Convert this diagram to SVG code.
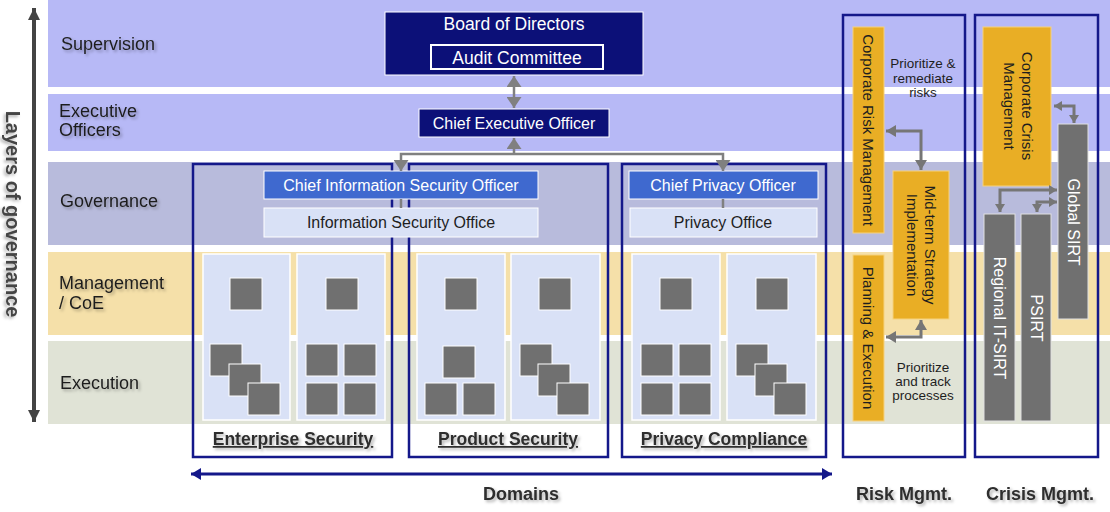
<svg xmlns="http://www.w3.org/2000/svg" width="1110" height="512" viewBox="0 0 1110 512">
<defs>
<style>
text{font-family:"Liberation Sans",Arial,sans-serif}
.lbl{font-size:18px;fill:#1e1e1e}
.wt{fill:#fff;text-anchor:middle}
.dk{fill:#1e1e1e;text-anchor:middle}
.rot{dominant-baseline:central;text-anchor:middle}
.dom{font-size:17.5px;font-weight:bold;fill:#2e2e2e;text-anchor:middle;text-decoration:underline}
.bot{font-size:18px;font-weight:bold;fill:#2e2e2e;text-anchor:middle}
.note{font-size:13.5px;fill:#1e1e1e;text-anchor:middle}
.col{fill:#d9e1f6;stroke:#fff;stroke-width:1.5}
.sq{fill:#707070;stroke:#fff;stroke-width:1}
.box{fill:none;stroke:#14188a;stroke-width:2.5}
.org{fill:#e9ae25;stroke:#f6d27e;stroke-width:1}
.gry{fill:#707070;stroke:#e0e0e0;stroke-width:1}
.cg{fill:none;stroke:#808080;stroke-width:2.5}
.cr{fill:none;stroke:#767676;stroke-width:3}
</style>
<filter id="sh" x="-10%" y="-40%" width="130%" height="200%"><feDropShadow dx="2" dy="2" stdDeviation="1.5" flood-color="#000" flood-opacity="0.3"/></filter>
<marker id="aG" markerUnits="userSpaceOnUse" viewBox="0 0 11 15" markerWidth="11" markerHeight="15" refX="11" refY="7.5" orient="auto-start-reverse"><path d="M0,0 L11,7.5 L0,15 z" fill="#808080"/></marker>
<marker id="aR" markerUnits="userSpaceOnUse" viewBox="0 0 10 12" markerWidth="10" markerHeight="12" refX="10" refY="6" orient="auto-start-reverse"><path d="M0,0 L10,6 L0,12 z" fill="#767676"/></marker>
<marker id="aC" markerUnits="userSpaceOnUse" viewBox="0 0 8 10" markerWidth="8" markerHeight="10" refX="8" refY="5" orient="auto-start-reverse"><path d="M0,0 L8,5 L0,10 z" fill="#767676"/></marker>
<marker id="aN" markerUnits="userSpaceOnUse" viewBox="0 0 10 12" markerWidth="10" markerHeight="12" refX="10" refY="6" orient="auto-start-reverse"><path d="M0,0 L10,6 L0,12 z" fill="#14188a"/></marker>
<marker id="aD" markerUnits="userSpaceOnUse" viewBox="0 0 12 12" markerWidth="12" markerHeight="12" refX="12" refY="6" orient="auto-start-reverse"><path d="M0,0 L12,6 L0,12 z" fill="#444"/></marker>
</defs>

<g id="bands">
<rect x="48" y="0" width="1062" height="87" fill="#b7b9f6"/>
<rect x="48" y="94" width="1062" height="57" fill="#b7b9f6"/>
<rect x="48" y="162" width="1062" height="83" fill="#b8bbdc"/>
<rect x="48" y="252" width="1062" height="83" fill="#f5e0a9"/>
<rect x="48" y="341" width="1062" height="83" fill="#e0e3d6"/>
</g>

<g id="band-labels" filter="url(#sh)">
<text class="lbl" x="61" y="50">Supervision</text>
<text class="lbl" x="59" y="117">Executive</text>
<text class="lbl" x="59" y="136">Officers</text>
<text class="lbl" x="60" y="207">Governance</text>
<text class="lbl" x="59" y="289">Management</text>
<text class="lbl" x="59" y="309">/ CoE</text>
<text class="lbl" x="60" y="389">Execution</text>
</g>

<g id="layers-axis">
<path d="M34,8 L34,422" fill="none" stroke="#444" stroke-width="4" marker-start="url(#aD)" marker-end="url(#aD)"/>
<text class="rot" transform="translate(13,214) rotate(90)" font-size="20" font-weight="bold" fill="#444" filter="url(#sh)">Layers of governance</text>
</g>

<g id="board">
<rect x="385" y="12" width="258" height="63" fill="#0c1078" stroke="#fff" stroke-width="1"/>
<text class="wt" x="514" y="30" font-size="17.5">Board of Directors</text>
</g>
<g id="audit">
<rect x="431" y="45" width="172" height="24" fill="#0c1078" stroke="#fff" stroke-width="2"/>
<text class="wt" x="517" y="64" font-size="17.5">Audit Committee</text>
</g>
<g id="ceo">
<rect x="419" y="109" width="190" height="28" fill="#0c1078" stroke="#fff" stroke-width="1"/>
<text class="wt" x="514" y="129" font-size="16">Chief Executive Officer</text>
</g>

<g id="domain-enterprise">
<rect class="box" x="193" y="164" width="199" height="293"/>
<text class="dom" x="293" y="445" filter="url(#sh)">Enterprise Security</text>
</g>
<g id="domain-product">
<rect class="box" x="409" y="164" width="199" height="293"/>
<text class="dom" x="508" y="445" filter="url(#sh)">Product Security</text>
</g>
<g id="domain-privacy">
<rect class="box" x="622" y="164" width="204" height="293"/>
<text class="dom" x="724" y="445" filter="url(#sh)">Privacy Compliance</text>
</g>

<g id="ciso">
<rect x="264" y="171" width="274" height="28" fill="#3f69cf" stroke="#fff" stroke-width="1"/>
<text class="wt" x="401" y="191" font-size="16">Chief Information Security Officer</text>
</g>
<g id="iso">
<rect x="264" y="208" width="274" height="29" fill="#d9e1f6" stroke="#fff" stroke-width="1"/>
<text class="dk" x="401" y="228" font-size="16">Information Security Office</text>
</g>
<g id="cpo">
<rect x="629" y="171" width="189" height="28" fill="#3f69cf" stroke="#fff" stroke-width="1"/>
<text class="wt" x="723" y="191" font-size="16">Chief Privacy Officer</text>
</g>
<g id="privacy-office">
<rect x="630" y="208" width="187" height="29" fill="#d9e1f6" stroke="#fff" stroke-width="1"/>
<text class="dk" x="723" y="228" font-size="16">Privacy Office</text>
</g>

<g id="ent-col1">
<rect class="col" x="203" y="254" width="87" height="166"/>
<rect class="sq" x="230" y="278" width="32" height="32"/>
<rect class="sq" x="210" y="344" width="32" height="32"/>
<rect class="sq" x="229" y="364" width="32" height="32"/>
<rect class="sq" x="248" y="383" width="32" height="32"/>
</g>
<g id="ent-col2">
<rect class="col" x="297" y="254" width="88" height="166"/>
<rect class="sq" x="326" y="278" width="32" height="32"/>
<rect class="sq" x="306" y="344" width="32" height="32"/>
<rect class="sq" x="344" y="344" width="32" height="32"/>
<rect class="sq" x="306" y="383" width="32" height="32"/>
<rect class="sq" x="344" y="383" width="32" height="32"/>
</g>
<g id="prod-col1">
<rect class="col" x="417" y="254" width="88" height="166"/>
<rect class="sq" x="445" y="278" width="32" height="32"/>
<rect class="sq" x="443" y="346" width="32" height="32"/>
<rect class="sq" x="425" y="383" width="32" height="32"/>
<rect class="sq" x="463" y="383" width="32" height="32"/>
</g>
<g id="prod-col2">
<rect class="col" x="511" y="254" width="89" height="166"/>
<rect class="sq" x="539" y="278" width="32" height="32"/>
<rect class="sq" x="520" y="344" width="32" height="32"/>
<rect class="sq" x="538" y="364" width="32" height="32"/>
<rect class="sq" x="557" y="383" width="32" height="32"/>
</g>
<g id="priv-col1">
<rect class="col" x="632" y="254" width="88" height="166"/>
<rect class="sq" x="660" y="278" width="32" height="32"/>
<rect class="sq" x="641" y="344" width="32" height="32"/>
<rect class="sq" x="679" y="344" width="32" height="32"/>
<rect class="sq" x="641" y="383" width="32" height="32"/>
<rect class="sq" x="679" y="383" width="32" height="32"/>
</g>
<g id="priv-col2">
<rect class="col" x="727" y="254" width="89" height="166"/>
<rect class="sq" x="756" y="278" width="32" height="32"/>
<rect class="sq" x="736" y="344" width="32" height="32"/>
<rect class="sq" x="755" y="364" width="32" height="32"/>
<rect class="sq" x="774" y="383" width="32" height="32"/>
</g>

<g id="risk-mgmt">
<rect class="box" x="843" y="15" width="122" height="442"/>
<text class="bot" x="904" y="500" filter="url(#sh)">Risk Mgmt.</text>
</g>
<g id="corp-risk">
<rect class="org" x="853" y="27" width="31" height="206"/>
<text class="rot" transform="translate(868.5,130) rotate(90)" font-size="15" fill="#1e1e1e">Corporate Risk Management</text>
</g>
<g id="midterm">
<rect class="org" x="893" y="171" width="56" height="148"/>
<text class="rot" transform="translate(930,245) rotate(90)" font-size="15" fill="#1e1e1e">Mid-term Strategy</text>
<text class="rot" transform="translate(912,245) rotate(90)" font-size="15" fill="#1e1e1e">Implementation</text>
</g>
<g id="planning">
<rect class="org" x="853" y="255" width="31" height="166"/>
<text class="rot" transform="translate(868.5,338) rotate(90)" font-size="15" fill="#1e1e1e">Planning &amp; Execution</text>
</g>
<g id="note-remediate">
<text class="note" x="923" y="68">Prioritize &amp;</text>
<text class="note" x="923" y="83">remediate</text>
<text class="note" x="923" y="97">risks</text>
</g>
<g id="note-track">
<text class="note" x="923" y="372">Prioritize</text>
<text class="note" x="923" y="386">and track</text>
<text class="note" x="923" y="400">processes</text>
</g>

<g id="crisis-mgmt">
<rect class="box" x="975" y="15" width="123" height="442"/>
<text class="bot" x="1040" y="500" filter="url(#sh)">Crisis Mgmt.</text>
</g>
<g id="corp-crisis">
<rect class="org" x="983" y="27" width="68" height="159"/>
<text class="rot" transform="translate(1027,106) rotate(90)" font-size="15" fill="#1e1e1e">Corporate Crisis</text>
<text class="rot" transform="translate(1009,106) rotate(90)" font-size="15" fill="#1e1e1e">Management</text>
</g>
<g id="global-sirt">
<rect class="gry" x="1058" y="124" width="30" height="195"/>
<text class="rot" transform="translate(1073,222) rotate(90)" font-size="16" fill="#fff">Global SIRT</text>
</g>
<g id="regional-sirt">
<rect class="gry" x="984" y="214" width="31" height="207"/>
<text class="rot" transform="translate(999.5,318) rotate(90)" font-size="16" fill="#fff">Regional IT-SIRT</text>
</g>
<g id="psirt">
<rect class="gry" x="1021" y="214" width="30" height="207"/>
<text class="rot" transform="translate(1036,318) rotate(90)" font-size="16" fill="#fff">PSIRT</text>
</g>

<g id="domains-axis">
<text class="bot" x="521" y="500" filter="url(#sh)">Domains</text>
</g>

<g id="connectors">
<path class="cg" d="M514,76 L514,108" marker-start="url(#aG)" marker-end="url(#aG)"/>
<path class="cg" d="M514,154 L514,138" marker-end="url(#aG)"/>
<path class="cg" d="M401,171 L401,154 L723,154 L723,171" marker-start="url(#aG)" marker-end="url(#aG)"/>
<path class="cg" d="M401,199 L401,208"/>
<path class="cg" d="M723,199 L723,208"/>
<path class="cr" d="M886,131 L921,131 L921,170" marker-start="url(#aR)" marker-end="url(#aR)"/>
<path class="cr" d="M886,337 L921,337 L921,320" marker-start="url(#aR)" marker-end="url(#aR)"/>
<path class="cr" d="M1054,106 L1074,106 L1074,123" stroke-width="2.5" marker-start="url(#aC)" marker-end="url(#aC)"/>
<path class="cr" d="M1000,212 L1000,190 L1057,190" stroke-width="2.5" marker-start="url(#aC)" marker-end="url(#aC)"/>
<path class="cr" d="M1037,212 L1037,202 L1057,202" stroke-width="2.5" marker-start="url(#aC)" marker-end="url(#aC)"/>
<path d="M191,474 L832,474" fill="none" stroke="#14188a" stroke-width="3" marker-start="url(#aN)" marker-end="url(#aN)"/>
</g>
</svg>
